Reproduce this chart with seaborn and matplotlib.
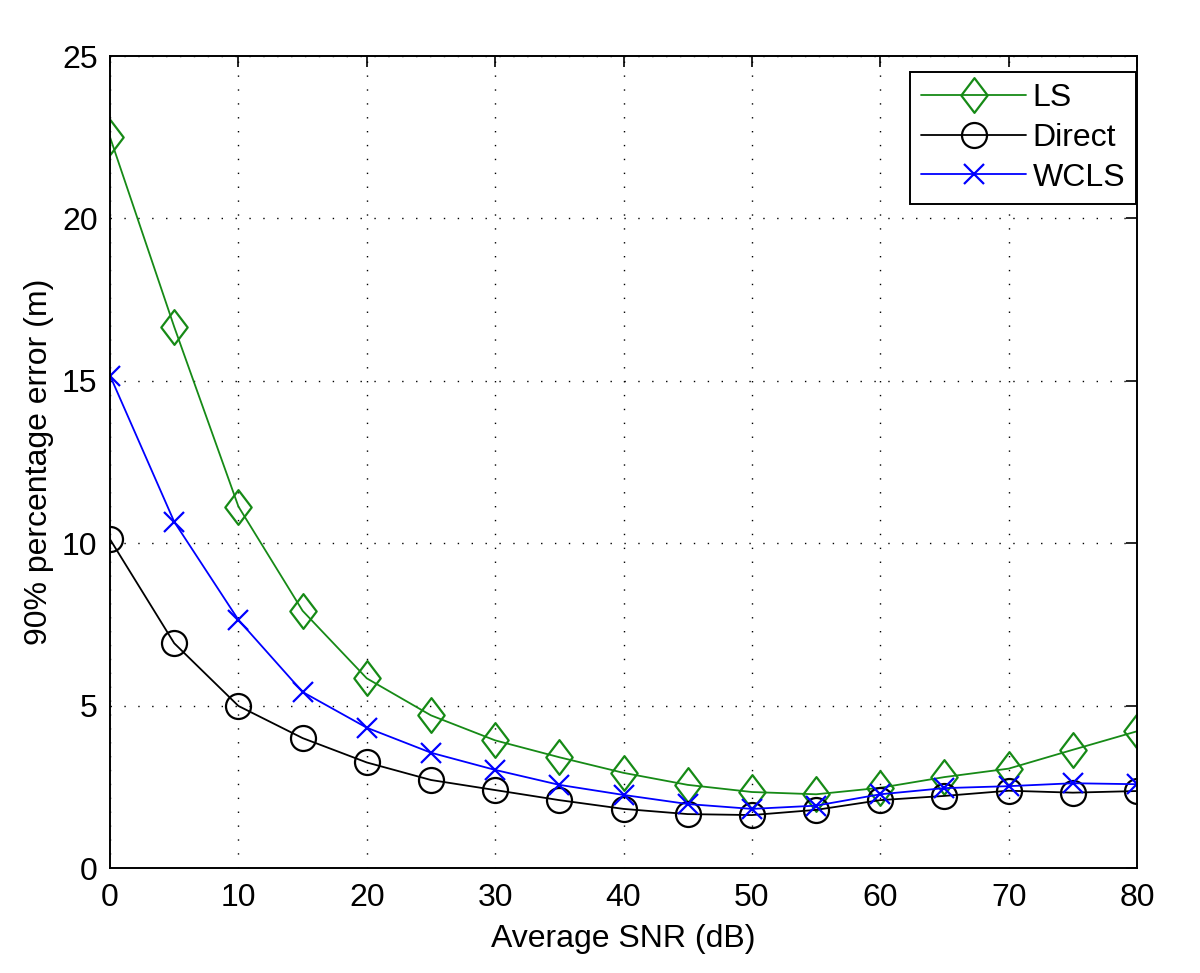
import matplotlib
matplotlib.use("Agg")
import matplotlib.pyplot as plt
import seaborn as sns
import numpy as np
from matplotlib.path import Path

snr = [0, 5, 10, 15, 20, 25, 30, 35, 40, 45, 50, 55, 60, 65, 70, 75, 80]
ls_err = [22.5, 16.66, 11.13, 7.92, 5.84, 4.70, 3.93, 3.41, 2.93, 2.56, 2.34, 2.27, 2.47, 2.80, 3.06, 3.64, 4.21]
direct_err = [10.12, 6.92, 4.99, 4.0, 3.25, 2.71, 2.40, 2.09, 1.82, 1.66, 1.63, 1.79, 2.09, 2.22, 2.38, 2.32, 2.37]
wcls_err = [15.16, 10.66, 7.64, 5.42, 4.32, 3.55, 3.02, 2.56, 2.25, 1.97, 1.82, 1.92, 2.27, 2.46, 2.52, 2.61, 2.58]
series_names = ["LS", "Direct", "WCLS"]
xticks = [0, 10, 20, 30, 40, 50, 60, 70, 80]
yticks = [0, 5, 10, 15, 20, 25]

sns.set_style("white")
plt.rcParams['font.family'] = ['Liberation Sans', 'DejaVu Sans']
plt.rcParams['font.size'] = 23
for k in ['text.color', 'axes.labelcolor', 'xtick.color', 'ytick.color']:
    plt.rcParams[k] = 'black'

fig = plt.figure(figsize=(12, 9.73), dpi=100)
ax = fig.add_axes([0.0917, 0.1079, 0.8558, 0.8345])

diamond = Path([(0, 1), (0.76, 0), (0, -1), (-0.76, 0), (0, 1)],
               [Path.MOVETO, Path.LINETO, Path.LINETO, Path.LINETO, Path.CLOSEPOLY])

green = '#168a16'
sns.lineplot(x=snr, y=ls_err, ax=ax, color=green, lw=1.3, marker=diamond,
             markersize=25, markerfacecolor='none', markeredgecolor=green,
             markeredgewidth=1.6, label=series_names[0])
sns.lineplot(x=snr, y=direct_err, ax=ax, color='black', lw=1.3, marker='o',
             markersize=18, markerfacecolor='none', markeredgecolor='black',
             markeredgewidth=1.6, label=series_names[1])
sns.lineplot(x=snr, y=wcls_err, ax=ax, color='#0000ff', lw=1.3, marker='x',
             markersize=14, markeredgecolor='#0000ff',
             markeredgewidth=1.6, label=series_names[2])

ax.set_xlim(0, 80)
ax.set_ylim(0, 25)
ax.set_xticks(xticks)
ax.set_yticks(yticks)
ax.set_xlabel("Average SNR (dB)", fontsize=23, labelpad=8)
ax.set_ylabel("90% percentage error (m)", fontsize=23, labelpad=6)
ax.tick_params(direction='in', length=8, width=1.2, top=True, right=True,
               labelsize=23, color='black')
ax.tick_params(axis='x', pad=11)
ax.tick_params(axis='y', pad=9)
ax.grid(True, color='black', linestyle=(0, (1, 9)), linewidth=1.0)
for s in ax.spines.values():
    s.set_color('black')
    s.set_linewidth(1.4)
    s.set_visible(True)

leg = ax.legend(loc='upper right', bbox_to_anchor=(0.9995, 0.98), fontsize=23,
                frameon=True, fancybox=False, edgecolor='black', framealpha=1,
                handlelength=3.3, borderpad=0.35, labelspacing=0.3,
                handletextpad=0.2, borderaxespad=0.0)
leg.get_frame().set_linewidth(1.4)

fig.savefig("out.png", dpi=100)
